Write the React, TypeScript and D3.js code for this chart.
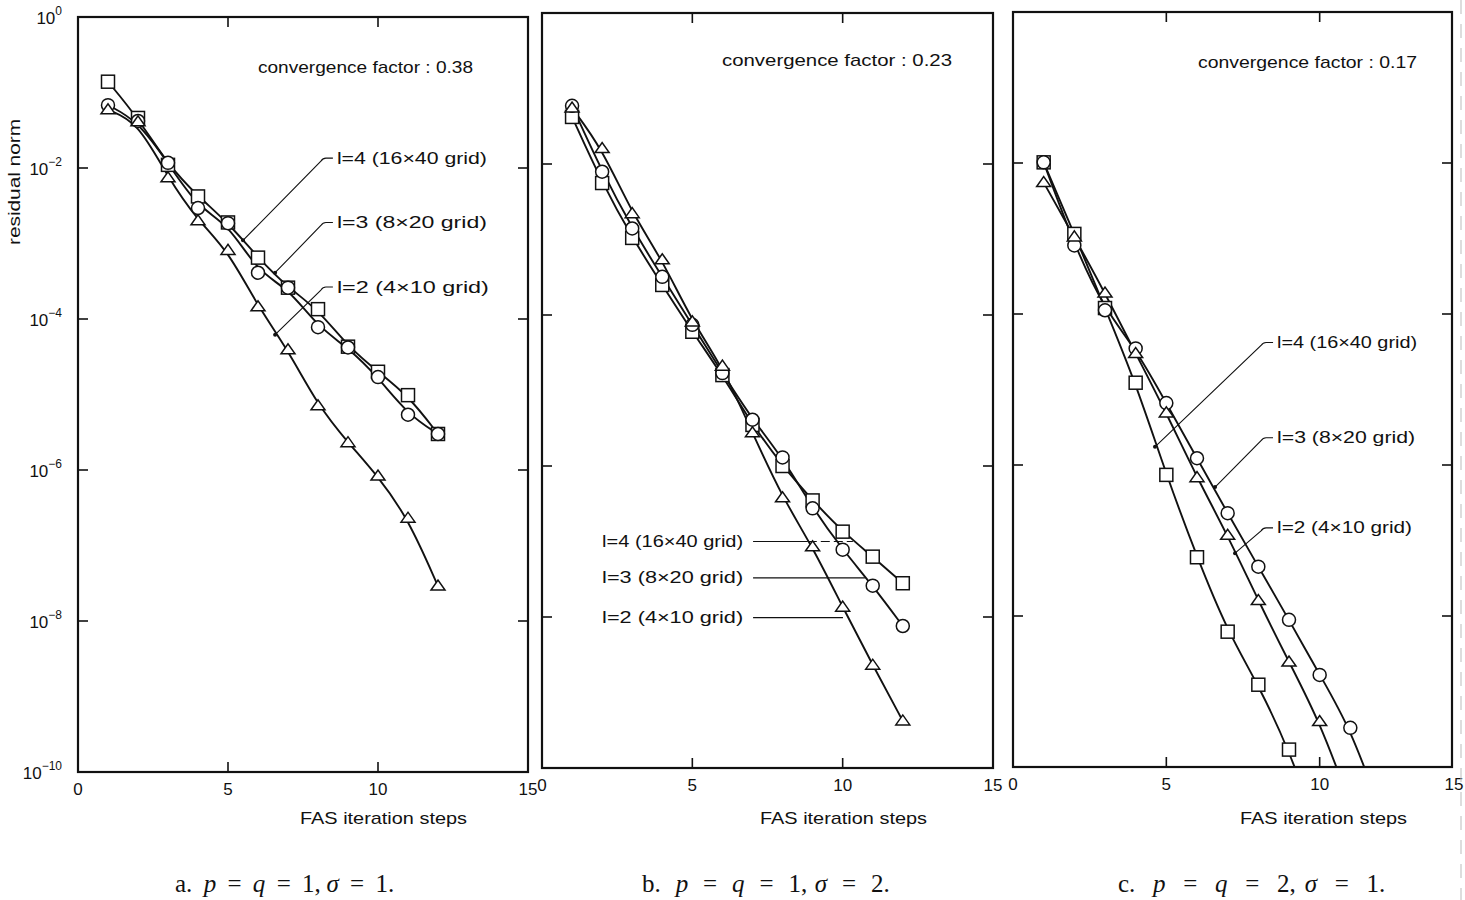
import React, { useEffect, useRef } from 'react';
import * as d3 from 'd3';

// FAS iteration steps
const steps = [1, 2, 3, 4, 5, 6, 7, 8, 9, 10, 11, 12];
const stepsC4 = [1, 2, 3, 4, 5, 6, 7, 8, 9, 10];
const stepsC2 = [1, 2, 3, 4, 5, 6, 7, 8, 9, 10, 11];

// residual norms, a. p = q = 1, sigma = 1
const aLevel4 = [1.39e-1, 4.6e-2, 1.1e-2, 4.2e-3, 1.9e-3, 6.5e-4, 2.6e-4, 1.35e-4, 4.3e-5, 2.0e-5, 9.8e-6, 3.0e-6];
const aLevel3 = [6.8e-2, 4.2e-2, 1.17e-2, 2.95e-3, 1.86e-3, 4.1e-4, 2.6e-4, 7.8e-5, 4.2e-5, 1.7e-5, 5.4e-6, 3.0e-6];
const aLevel2 = [5.9e-2, 4.1e-2, 7.4e-3, 2.0e-3, 8.1e-4, 1.45e-4, 3.9e-5, 7.1e-6, 2.3e-6, 8.3e-7, 2.3e-7, 2.9e-8];

// b. p = q = 1, sigma = 2
const bLevel4 = [4.2e-2, 5.6e-3, 1.05e-3, 2.5e-4, 6.0e-5, 1.6e-5, 3.5e-6, 1.0e-6, 3.5e-7, 1.35e-7, 6.3e-8, 2.8e-8];
const bLevel3 = [5.9e-2, 7.9e-3, 1.4e-3, 3.2e-4, 7.4e-5, 1.7e-5, 4.1e-6, 1.3e-6, 2.75e-7, 7.8e-8, 2.6e-8, 7.6e-9];
const bLevel2 = [5.5e-2, 1.6e-2, 2.2e-3, 5.4e-4, 8.1e-5, 2.1e-5, 2.75e-6, 3.8e-7, 8.5e-8, 1.35e-8, 2.3e-9, 4.2e-10];

// c. p = q = 2, sigma = 1 (last points run out below the frame)
const cLevel4 = [1.02e-2, 1.15e-3, 1.2e-4, 1.23e-5, 7.4e-7, 6.0e-8, 6.2e-9, 1.23e-9, 1.7e-10, 1.26e-11];
const cLevel3 = [1.02e-2, 8.1e-4, 1.12e-4, 3.5e-5, 6.6e-6, 1.23e-6, 2.3e-7, 4.5e-8, 8.9e-9, 1.66e-9, 3.3e-10, 2.5e-11];
const cLevel2 = [5.5e-3, 1.05e-3, 1.9e-4, 3.0e-5, 4.9e-6, 6.8e-7, 1.17e-7, 1.6e-8, 2.45e-9, 4.0e-10, 3.2e-11];

const yTickExps = [0, -2, -4, -6, -8, -10];
const xTicks = [0, 5, 10, 15];
const factors = ['0.38', '0.23', '0.17'];
const levelNames = ['l=4  (16×40 grid)', 'l=3  (8×20 grid)', 'l=2  (4×10 grid)'];
const levelNamesB = ['l=4   (16×40 grid)', 'l=3   (8×20 grid)', 'l=2   (4×10 grid)'];
const captionLetters = ['a.', 'b.', 'c.'];
const captionPQ = ['1', '1', '2'];
const captionSigma = ['1', '2', '1'];

// leader anchors in data units: [label step, label norm, target step, target norm]
const aLeaders = [[8.63, 1.35e-2, 5.5, 1.1e-3], [8.63, 1.9e-3, 6.57, 4.1e-4], [8.63, 2.65e-4, 6.57, 6.2e-5]];
const bLeaders = [[2.0, 1.0e-7, 7.02, 10.34], [2.0, 3.3e-8, 7.02, 10.74], [2.0, 9.8e-9, 7.02, 10.01]];
const cLeaders = [[8.61, 4.2e-5, 4.63, 1.74e-6], [8.61, 2.3e-6, 6.59, 5.1e-7], [8.61, 1.47e-7, 7.24, 6.8e-8]];

const FONT = "'Liberation Sans', 'DejaVu Sans', sans-serif";

const panels = [
  {
    id: 'a', left: 78, right: 528, xEnd: 528, top: 17, bottom: 772,
    series: [
      { shape: 'square', xs: steps, ys: aLevel4 },
      { shape: 'circle', xs: steps, ys: aLevel3 },
      { shape: 'triangle', xs: steps, ys: aLevel2 },
    ],
    leaders: aLeaders, names: levelNames, nameLen: [150, 150, 152], style: 'hook',
    factorX: 180, factorY: 50, factorLen: 215, fasX: 222, capX: 175, capSpace: -0.6,
  },
  {
    id: 'b', left: 542, right: 993, xEnd: 993, top: 13, bottom: 768,
    series: [
      { shape: 'square', xs: steps, ys: bLevel4 },
      { shape: 'circle', xs: steps, ys: bLevel3 },
      { shape: 'triangle', xs: steps, ys: bLevel2 },
    ],
    leaders: bLeaders, names: levelNamesB, nameLen: [141, 141, 141], style: 'flat',
    factorX: 180, factorY: 47, factorLen: 230, fasX: 218, capX: 642, capSpace: 1.2,
  },
  {
    id: 'c', left: 1013, right: 1452, xEnd: 1473, top: 12, bottom: 767,
    series: [
      { shape: 'square', xs: stepsC4, ys: cLevel4 },
      { shape: 'circle', xs: steps, ys: cLevel3 },
      { shape: 'triangle', xs: stepsC2, ys: cLevel2 },
    ],
    leaders: cLeaders, names: levelNames, nameLen: [140, 138, 135], style: 'hook',
    factorX: 185, factorY: 50, factorLen: 219, fasX: 227, capX: 1118, capSpace: 2.6,
  },
];

const App = () => {
  const ref = useRef(null);

  useEffect(() => {
    const svg = d3.select(ref.current);
    svg.selectAll('*').remove();

    const defs = svg.append('defs');

    panels.forEach((p, pi) => {
      const x = d3.scaleLinear().domain([0, 15]).range([p.left, p.xEnd]);
      const y = d3.scaleLog().domain([1, 1e-10]).range([p.top, p.bottom]);
      const g = svg.append('g').attr('class', 'panel-' + p.id);

      defs.append('clipPath').attr('id', 'clip-' + p.id)
        .append('rect')
        .attr('x', p.left).attr('y', p.top)
        .attr('width', p.right - p.left).attr('height', p.bottom - p.top);

      // ticks inside the frame on all four sides
      const tickLen = 10;
      yTickExps.slice(1, -1).forEach(e => {
        const ty = y(Math.pow(10, e));
        g.append('line').attr('x1', p.left).attr('x2', p.left + tickLen).attr('y1', ty).attr('y2', ty);
        g.append('line').attr('x1', p.right).attr('x2', p.right - tickLen).attr('y1', ty).attr('y2', ty);
      });
      [5, 10].forEach(t => {
        g.append('line').attr('x1', x(t)).attr('x2', x(t)).attr('y1', p.bottom).attr('y2', p.bottom - tickLen);
        g.append('line').attr('x1', x(t)).attr('x2', x(t)).attr('y1', p.top).attr('y2', p.top + tickLen);
      });
      g.selectAll('line').attr('stroke', '#111').attr('stroke-width', 1.6);

      g.append('rect')
        .attr('x', p.left).attr('y', p.top)
        .attr('width', p.right - p.left).attr('height', p.bottom - p.top)
        .attr('fill', 'none').attr('stroke', '#111').attr('stroke-width', 2.2);

      // x tick labels (the last one of panel c sits on the cropped edge)
      xTicks.forEach(t => {
        const tx = Math.min(x(t), p.right + 2);
        g.append('text')
          .attr('x', tx).attr('y', p.bottom + 23)
          .attr('text-anchor', 'middle')
          .attr('font-family', FONT).attr('font-size', 17).attr('fill', '#111')
          .text(t);
      });

      // y tick labels only on the first panel
      if (pi === 0) {
        yTickExps.forEach(e => {
          const t = g.append('text')
            .attr('x', 62).attr('y', y(Math.pow(10, e)) + 7)
            .attr('text-anchor', 'end')
            .attr('font-family', FONT).attr('font-size', 17).attr('fill', '#111');
          t.append('tspan').text('10');
          t.append('tspan').attr('dy', -9).attr('font-size', 12).text(e === 0 ? '0' : '\u2212' + (-e));
        });
        g.append('text')
          .attr('transform', 'translate(20,182) rotate(-90)')
          .attr('text-anchor', 'middle')
          .attr('font-family', FONT).attr('font-size', 16).attr('fill', '#111')
          .attr('textLength', 126).attr('lengthAdjust', 'spacingAndGlyphs')
          .text('residual norm');
      }

      g.append('text')
        .attr('x', p.left + p.factorX).attr('y', p.top + p.factorY + 6)
        .attr('font-family', FONT).attr('font-size', 17).attr('fill', '#111')
        .attr('textLength', p.factorLen).attr('lengthAdjust', 'spacingAndGlyphs')
        .text('convergence  factor : ' + factors[pi]);

      g.append('text')
        .attr('x', p.left + p.fasX).attr('y', 824)
        .attr('font-family', FONT).attr('font-size', 17).attr('fill', '#111')
        .attr('textLength', 167).attr('lengthAdjust', 'spacingAndGlyphs')
        .text('FAS  iteration  steps');

      // curves and markers
      const plot = g.append('g').attr('clip-path', 'url(#clip-' + p.id + ')');
      const line = d3.line().curve(d3.curveBasis);
      p.series.forEach(s => {
        const pts = s.xs.map((v, i) => [x(v), y(s.ys[i])]);
        plot.append('path')
          .attr('class', 'curve')
          .attr('d', line(pts))
          .attr('fill', 'none').attr('stroke', '#111').attr('stroke-width', 1.9);
      });
      p.series.forEach(s => {
        const pts = s.xs.map((v, i) => [x(v), y(s.ys[i])]);
        const m = plot.selectAll('.m-' + s.shape).data(pts).enter();
        let mk;
        if (s.shape === 'square') {
          mk = m.append('rect').attr('x', d => d[0] - 6.5).attr('y', d => d[1] - 6.5)
            .attr('width', 13).attr('height', 13);
        } else if (s.shape === 'circle') {
          mk = m.append('circle').attr('cx', d => d[0]).attr('cy', d => d[1]).attr('r', 6.5);
        } else {
          mk = m.append('path').attr('d', d => `M${d[0] - 7},${d[1] + 4}L${d[0] + 7},${d[1] + 4}L${d[0]},${d[1] - 6}Z`);
        }
        mk.attr('fill', '#fff').attr('stroke', '#111').attr('stroke-width', 1.5);
      });

      // level labels with leader lines
      p.leaders.forEach((l, li) => {
        const lx = x(l[0]);
        const ly = y(l[1]);
        g.append('text')
          .attr('x', lx).attr('y', ly).attr('dy', '0.35em')
          .attr('font-family', FONT).attr('font-size', 16).attr('fill', '#111')
          .attr('textLength', p.nameLen[li]).attr('lengthAdjust', 'spacingAndGlyphs')
          .text(p.names[li]);
        if (p.style === 'hook') {
          const tx = x(l[2]);
          const ty = y(l[3]);
          g.append('path')
            .attr('d', `M${lx - 4},${ly}L${lx - 11},${ly}Q${lx - 14},${ly} ${lx - 16},${ly + 3}L${tx},${ty}`)
            .attr('fill', 'none').attr('stroke', '#111').attr('stroke-width', 1.1);
          g.append('circle').attr('cx', tx).attr('cy', ty).attr('r', 2).attr('fill', '#111');
        } else {
          const x0 = x(l[2]);
          const x1 = x(l[3]);
          const xm = li === 0 ? x(8.84) : x1;
          g.append('line').attr('x1', x0).attr('x2', xm).attr('y1', ly).attr('y2', ly)
            .attr('stroke', '#111').attr('stroke-width', 1.1);
          if (li === 0) {
            g.append('line').attr('x1', xm).attr('x2', x1).attr('y1', ly).attr('y2', ly)
              .attr('stroke', '#111').attr('stroke-width', 1.1).attr('stroke-dasharray', '9,4');
          }
        }
      });

      // caption under each panel
      const cap = svg.append('text')
        .attr('x', p.capX).attr('y', 892)
        .attr('font-family', "'Liberation Serif', 'DejaVu Serif', serif")
        .attr('font-size', 25).attr('fill', '#111')
        .attr('word-spacing', p.capSpace)
        .style('white-space', 'pre');
      cap.append('tspan').text(captionLetters[pi] + '  ');
      cap.append('tspan').attr('font-style', 'italic').text('p');
      cap.append('tspan').text('  =  ');
      cap.append('tspan').attr('font-style', 'italic').text('q');
      cap.append('tspan').text('  =  ' + captionPQ[pi] + ', ');
      cap.append('tspan').attr('font-style', 'italic').text('σ');
      cap.append('tspan').text('  =  ' + captionSigma[pi] + '.');
    });

    // faint scan edge on the right
    svg.append('line')
      .attr('x1', 1461).attr('x2', 1461).attr('y1', 0).attr('y2', 900)
      .attr('stroke', '#bbb').attr('stroke-width', 1).attr('stroke-dasharray', '14,10');
  }, []);

  return (
    <svg
      ref={ref}
      width={1465}
      height={900}
      style={{ position: 'absolute', left: 0, top: 0, background: '#fff' }}
    />
  );
};

export default App;
